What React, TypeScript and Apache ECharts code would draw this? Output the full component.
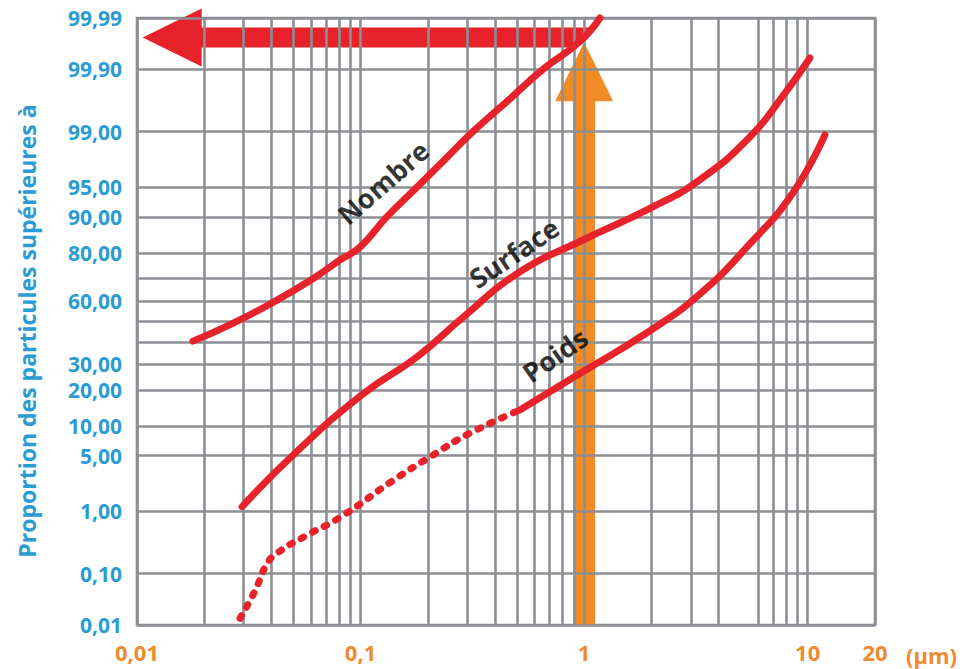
import React, { useEffect, useRef } from 'react';
import * as echarts from 'echarts';

// ---------- data ----------
// vertical grid values (µm) – the original paper has no line at 5 µm
const xGrid = [0.01, 0.02, 0.03, 0.04, 0.05, 0.06, 0.07, 0.08, 0.09, 0.1, 0.2, 0.3, 0.4, 0.5, 0.6, 0.7, 0.8, 0.9, 1, 2, 3, 4, 6, 7, 8, 9, 10, 20];
const xLabeled = [0.01, 0.1, 1, 10, 20];
// horizontal grid values (%)
const yGrid = [99.99, 99.9, 99, 95, 90, 80, 70, 60, 50, 40, 30, 20, 10, 5, 1, 0.1, 0.01];
const yLabeled = [99.99, 99.9, 99, 95, 90, 80, 60, 30, 20, 10, 5, 1, 0.1, 0.01];

const nombreX = [0.0178, 0.0261, 0.0394, 0.0612, 0.081, 0.0994, 0.131, 0.1786, 0.24, 0.318, 0.46, 0.655, 0.957, 1.177];
const nombreP = [40.5, 48.5, 58.5, 70.0, 77.5, 81.9, 90.0, 95.0, 97.7, 99.0, 99.67, 99.9, 99.97, 99.99];

const surfaceX = [0.0295, 0.052, 0.1025, 0.1786, 0.287, 0.5006, 0.988, 1.97, 3.3, 5.51, 7.75, 10.23];
const surfaceP = [1.16, 5.6, 18.7, 33.2, 52.0, 72.1, 84.1, 91.7, 95.9, 98.81, 99.716, 99.938];

const poidsDotX = [0.0289, 0.0337, 0.0381, 0.0427, 0.0564, 0.0826, 0.138, 0.2086, 0.302, 0.516];
const poidsDotP = [0.0138, 0.048, 0.148, 0.232, 0.424, 0.854, 2.51, 5.0, 8.36, 13.9];

const poidsX = [0.516, 0.929, 1.97, 3.3, 5.51, 8.59, 11.94];
const poidsP = [13.9, 25.5, 45.5, 63.3, 82.9, 94.26, 98.89];

const curveNames = ['Nombre', 'Surface', 'Poids'];
const curveLabelX = [0.126, 0.485, 0.74];
const curveLabelP = [95.6, 80.0, 34.1];

// arrows: [x from, % from, x to, % to]
const orangeArrow = [1, 0.01, 1, 99.969];
const redArrow = [1, 99.975, 0.0106, 99.975];

const yTitle = 'Proportion des particules supérieures à';
const xUnit = '(µm)';

// ---------- helpers ----------
function probit(pct: number): number {
  const p = pct / 100;
  const a = [-3.969683028665376e1, 2.209460984245205e2, -2.759285104469687e2, 1.38357751867269e2, -3.066479806614716e1, 2.506628277459239];
  const b = [-5.447609879822406e1, 1.615858368580409e2, -1.556989798598866e2, 6.680131188771972e1, -1.328068155288572e1];
  const c = [-7.784894002430293e-3, -3.223964580411365e-1, -2.400758277161838, -2.549732539343734, 4.374664141464968, 2.938163982698783];
  const d = [7.784695709041462e-3, 3.224671290700398e-1, 2.445134137142996, 3.754408661907416];
  const pl = 0.02425;
  if (p < pl) {
    const q = Math.sqrt(-2 * Math.log(p));
    return (((((c[0] * q + c[1]) * q + c[2]) * q + c[3]) * q + c[4]) * q + c[5]) / ((((d[0] * q + d[1]) * q + d[2]) * q + d[3]) * q + 1);
  }
  if (p <= 1 - pl) {
    const q = p - 0.5;
    const r = q * q;
    return ((((((a[0] * r + a[1]) * r + a[2]) * r + a[3]) * r + a[4]) * r + a[5]) * q) / (((((b[0] * r + b[1]) * r + b[2]) * r + b[3]) * r + b[4]) * r + 1);
  }
  const q = Math.sqrt(-2 * Math.log(1 - p));
  return -(((((c[0] * q + c[1]) * q + c[2]) * q + c[3]) * q + c[4]) * q + c[5]) / ((((d[0] * q + d[1]) * q + d[2]) * q + d[3]) * q + 1);
}

// probability-paper coordinate: probit scaled so that 0.01 % -> -100 and 99.99 % -> +100
const Z_TOP = probit(99.99);
function pos(pct: number): number {
  const v = Math.round((probit(pct) / Z_TOP) * 100 * 1e6) / 1e6;
  return Math.max(-100, Math.min(100, v));
}

const toPts = (xs: number[], ps: number[]) => xs.map((x, i) => [x, pos(ps[i])]);
const fmtX = (v: number) => String(v).replace('.', ',');
const fmtY = (v: number) => v.toFixed(2).replace('.', ',');

const FONT = '"Open Sans", "Noto Sans", sans-serif';
const GRAY = '#8c8f95';
const RED = '#e6232a';
const ORANGE = '#f28a25';
const ORANGE_TXT = '#ef8a2e';
const BLUE = '#2b9bd4';

function arrowRenderer(color: string, shaftHalf: number, headHalf: number, headLen: number, skew: number) {
  return (params: any, api: any) => {
    const p0 = api.coord([api.value(0), api.value(1)]);
    const p1 = api.coord([api.value(2), api.value(3)]);
    const dx = p1[0] - p0[0];
    const dy = p1[1] - p0[1];
    const L = Math.hypot(dx, dy) || 1;
    const ux = dx / L, uy = dy / L;
    const nx = -uy, ny = ux;
    const hb = [p1[0] - ux * headLen, p1[1] - uy * headLen];
    const points = [
      [p0[0] + nx * shaftHalf - ux * skew, p0[1] + ny * shaftHalf - uy * skew],
      [hb[0] + nx * shaftHalf, hb[1] + ny * shaftHalf],
      [hb[0] + nx * headHalf, hb[1] + ny * headHalf],
      [p1[0], p1[1]],
      [hb[0] - nx * headHalf, hb[1] - ny * headHalf],
      [hb[0] - nx * shaftHalf, hb[1] - ny * shaftHalf],
      [p0[0] - nx * shaftHalf + ux * skew, p0[1] - ny * shaftHalf + uy * skew],
    ];
    return { type: 'polygon', shape: { points }, style: { fill: color } };
  };
}

export default function App() {
  const ref = useRef<HTMLDivElement>(null);
  useEffect(() => {
    if (!ref.current) return;
    const chart = echarts.init(ref.current, null, { renderer: 'svg' });

    const vLines = xGrid.map((v) => ({
      xAxis: v,
      label: xLabeled.includes(v)
        ? { show: true, formatter: fmtX(v), position: 'start', distance: 16, color: ORANGE_TXT, fontSize: 22, fontWeight: 'bold', fontFamily: FONT }
        : { show: false },
    }));
    const hLines = yGrid.map((p) => ({
      yAxis: pos(p),
      label: yLabeled.includes(p)
        ? { show: true, formatter: fmtY(p), position: 'start', distance: 15, color: BLUE, fontSize: 21, lineHeight: 21, fontWeight: 'bold', fontFamily: FONT }
        : { show: false },
    }));

    const lineBase = {
      type: 'line',
      symbol: 'none',
      showSymbol: false,
      smooth: 0.5,
      clip: false,
      silent: true,
      z: 5,
    };

    const option: any = {
      animation: false,
      backgroundColor: '#ffffff',
      grid: { left: 137, right: 91, top: 18, bottom: 44, show: true, borderColor: GRAY, borderWidth: 2.6, backgroundColor: 'transparent' },
      xAxis: {
        type: 'log',
        logBase: 10,
        min: 0.01,
        max: 20,
        axisLine: { show: false, onZero: false },
        axisTick: { show: false },
        axisLabel: { show: false },
        splitLine: { show: false },
      },
      yAxis: {
        type: 'value',
        min: -100,
        max: 100,
        interval: 50,
        axisLine: { show: false, onZero: false },
        axisTick: { show: false },
        axisLabel: { show: false },
        splitLine: { show: false },
      },
      graphic: [
        {
          type: 'text',
          x: 27,
          y: 331,
          rotation: Math.PI / 2,
          silent: true,
          style: { text: yTitle, fill: BLUE, font: `bold 23px ${FONT}`, align: 'center', verticalAlign: 'middle' },
        },
        {
          type: 'text',
          x: 906,
          y: 655,
          silent: true,
          style: { text: xUnit, fill: ORANGE_TXT, font: `bold 22px ${FONT}`, align: 'left', verticalAlign: 'middle' },
        },
      ],
      series: [
        {
          type: 'line',
          data: [],
          silent: true,
          clip: false,
          z: 1,
          markLine: {
            silent: true,
            symbol: ['none', 'none'],
            lineStyle: { color: GRAY, width: 2.6, type: 'solid' },
            label: { show: false },
            emphasis: { disabled: true },
            data: vLines,
          },
        },
        {
          type: 'line',
          data: [],
          silent: true,
          clip: false,
          z: 1,
          markLine: {
            silent: true,
            symbol: ['none', 'none'],
            lineStyle: { color: GRAY, width: 2.6, type: 'solid' },
            label: { show: false },
            emphasis: { disabled: true },
            data: hLines,
          },
        },
        {
          type: 'custom',
          z: 3,
          silent: true,
          clip: false,
          encode: { x: [0, 2], y: [1, 3] },
          data: [[orangeArrow[0], pos(orangeArrow[1]), orangeArrow[2], pos(orangeArrow[3])]],
          renderItem: arrowRenderer(ORANGE, 11, 29, 59, 0),
        },
        {
          type: 'custom',
          z: 4,
          silent: true,
          clip: false,
          encode: { x: [0, 2], y: [1, 3] },
          data: [[redArrow[0], pos(redArrow[1]), redArrow[2], pos(redArrow[3])]],
          renderItem: arrowRenderer(RED, 10, 29, 59, 9),
        },
        {
          ...lineBase,
          name: 'Nombre',
          data: toPts(nombreX, nombreP),
          lineStyle: { color: RED, width: 7, cap: 'round', join: 'round' },
        },
        {
          ...lineBase,
          name: 'Surface',
          data: toPts(surfaceX, surfaceP),
          lineStyle: { color: RED, width: 7, cap: 'round', join: 'round' },
        },
        {
          ...lineBase,
          name: 'Poids (pointillé)',
          data: toPts(poidsDotX, poidsDotP),
          lineStyle: { color: RED, width: 7, cap: 'round', join: 'round', type: [3, 10] },
        },
        {
          ...lineBase,
          name: 'Poids',
          data: toPts(poidsX, poidsP),
          lineStyle: { color: RED, width: 7, cap: 'round', join: 'round' },
        },
        {
          type: 'scatter',
          z: 6,
          silent: true,
          symbolSize: 2,
          itemStyle: { color: 'rgba(0,0,0,0)' },
          data: curveNames.map((n, i) => ({
            name: n,
            value: [curveLabelX[i], pos(curveLabelP[i])],
            label: { rotate: [41, 34, 35][i] },
          })),
          label: {
            show: true,
            position: 'inside',
            formatter: '{b}',
            color: '#000000',
            fontSize: 27,
            fontWeight: 'bold',
            fontFamily: FONT,
          },
        },
      ],
    };

    chart.setOption(option);
    return () => chart.dispose();
  }, []);

  return <div ref={ref} style={{ position: 'fixed', left: 0, top: 0, width: 966, height: 669, background: '#ffffff' }} />;
}
